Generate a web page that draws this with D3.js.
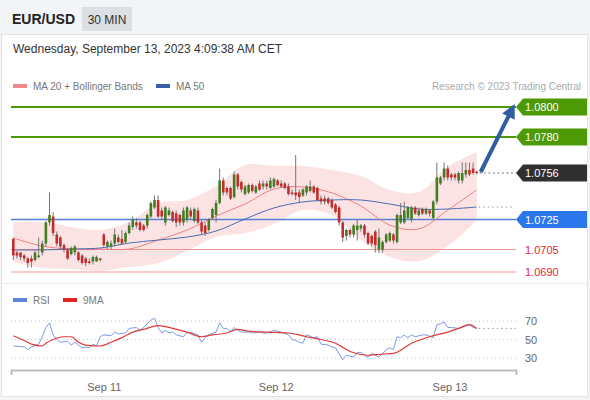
<!DOCTYPE html>
<html>
<head>
<meta charset="utf-8">
<script src="https://cdn.jsdelivr.net/npm/d3@7"></script>
<style>
  body { margin: 0; background: #f4f4f5; font-family: "Liberation Sans", Arial, sans-serif; }
</style>
</head>
<body>
<script>
// EUR/USD 30 min candles
var opens = [
  1.0712, 1.0703, 1.0703, 1.0701, 1.0699, 1.0699, 1.0698, 1.0700, 1.0703, 1.0709,
  1.0723, 1.0727, 1.0715, 1.0713, 1.0708, 1.0705, 1.0702, 1.0703, 1.0703, 1.0701,
  1.0699, 1.0697, 1.0697, 1.0697, 1.0699, 1.0715, 1.0707, 1.0707, 1.0709, 1.0713,
  1.0712, 1.0710, 1.0716, 1.0720, 1.0723, 1.0723, 1.0721, 1.0721, 1.0727, 1.0733,
  1.0738, 1.0731, 1.0723, 1.0728, 1.0730, 1.0729, 1.0728, 1.0723, 1.0725, 1.0731,
  1.0724, 1.0731, 1.0723, 1.0721, 1.0718, 1.0726, 1.0728, 1.0736, 1.0751, 1.0746,
  1.0746, 1.0740, 1.0755, 1.0750, 1.0742, 1.0743, 1.0748, 1.0743, 1.0749, 1.0747,
  1.0749, 1.0746, 1.0747, 1.0751, 1.0749, 1.0749, 1.0747, 1.0743, 1.0743, 1.0743,
  1.0741, 1.0743, 1.0744, 1.0747, 1.0746, 1.0739, 1.0739, 1.0739, 1.0738, 1.0735,
  1.0733, 1.0723, 1.0714, 1.0718, 1.0715, 1.0718, 1.0719, 1.0721, 1.0716, 1.0714,
  1.0717, 1.0705, 1.0705, 1.0710, 1.0711, 1.0715, 1.0710, 1.0723, 1.0723, 1.0726,
  1.0725, 1.0733, 1.0728, 1.0732, 1.0729, 1.0731, 1.0726, 1.0737, 1.0749, 1.0753,
  1.0759, 1.0755, 1.0755, 1.0751, 1.0751, 1.0755, 1.0758, 1.0759, 1.0757
];
var closes = [
  1.0701, 1.0701, 1.0700, 1.0699, 1.0696, 1.0697, 1.0703, 1.0701, 1.0709, 1.0723,
  1.0728, 1.0716, 1.0709, 1.0707, 1.0705, 1.0699, 1.0706, 1.0707, 1.0698, 1.0696,
  1.0696, 1.0696, 1.0700, 1.0700, 1.0698, 1.0708, 1.0710, 1.0709, 1.0715, 1.0710,
  1.0709, 1.0716, 1.0721, 1.0725, 1.0721, 1.0718, 1.0718, 1.0728, 1.0736, 1.0738,
  1.0727, 1.0727, 1.0733, 1.0731, 1.0724, 1.0723, 1.0723, 1.0731, 1.0733, 1.0727,
  1.0732, 1.0723, 1.0717, 1.0716, 1.0725, 1.0732, 1.0736, 1.0751, 1.0743, 1.0743,
  1.0739, 1.0755, 1.0747, 1.0745, 1.0747, 1.0748, 1.0744, 1.0747, 1.0745, 1.0749,
  1.0747, 1.0751, 1.0752, 1.0748, 1.0747, 1.0746, 1.0742, 1.0742, 1.0741, 1.0740,
  1.0745, 1.0747, 1.0747, 1.0743, 1.0738, 1.0737, 1.0737, 1.0736, 1.0733, 1.0730,
  1.0723, 1.0713, 1.0718, 1.0715, 1.0721, 1.0721, 1.0721, 1.0715, 1.0709, 1.0709,
  1.0708, 1.0713, 1.0710, 1.0715, 1.0716, 1.0711, 1.0728, 1.0728, 1.0731, 1.0733,
  1.0733, 1.0729, 1.0731, 1.0729, 1.0732, 1.0729, 1.0737, 1.0753, 1.0753, 1.0759,
  1.0753, 1.0753, 1.0753, 1.0756, 1.0756, 1.0758, 1.0755, 1.0756, 1.0756
];
var highs = [
  1.0713, 1.0704, 1.0703, 1.0702, 1.0700, 1.0701, 1.0704, 1.0713, 1.0711, 1.0724,
  1.0743, 1.0730, 1.0717, 1.0714, 1.0709, 1.0706, 1.0707, 1.0708, 1.0704, 1.0702,
  1.0700, 1.0699, 1.0701, 1.0701, 1.0699, 1.0716, 1.0711, 1.0711, 1.0719, 1.0715,
  1.0718, 1.0717, 1.0723, 1.0727, 1.0726, 1.0724, 1.0722, 1.0729, 1.0737, 1.0741,
  1.0741, 1.0733, 1.0734, 1.0733, 1.0731, 1.0731, 1.0729, 1.0733, 1.0734, 1.0733,
  1.0733, 1.0733, 1.0725, 1.0723, 1.0726, 1.0733, 1.0738, 1.0759, 1.0753, 1.0747,
  1.0747, 1.0757, 1.0756, 1.0751, 1.0748, 1.0749, 1.0749, 1.0748, 1.0751, 1.0751,
  1.0751, 1.0753, 1.0753, 1.0752, 1.0751, 1.0750, 1.0749, 1.0745, 1.0768, 1.0745,
  1.0746, 1.0748, 1.0751, 1.0748, 1.0747, 1.0741, 1.0741, 1.0740, 1.0739, 1.0736,
  1.0734, 1.0724, 1.0719, 1.0719, 1.0722, 1.0725, 1.0722, 1.0722, 1.0717, 1.0715,
  1.0718, 1.0719, 1.0711, 1.0716, 1.0717, 1.0716, 1.0729, 1.0736, 1.0737, 1.0734,
  1.0734, 1.0734, 1.0733, 1.0733, 1.0733, 1.0732, 1.0738, 1.0763, 1.0754, 1.0763,
  1.0761, 1.0756, 1.0756, 1.0757, 1.0763, 1.0763, 1.0763, 1.0763, 1.0757
];
var lows = [
  1.0698, 1.0699, 1.0698, 1.0697, 1.0693, 1.0693, 1.0697, 1.0699, 1.0701, 1.0707,
  1.0721, 1.0714, 1.0707, 1.0705, 1.0703, 1.0698, 1.0701, 1.0701, 1.0697, 1.0695,
  1.0694, 1.0695, 1.0695, 1.0697, 1.0697, 1.0707, 1.0705, 1.0705, 1.0707, 1.0709,
  1.0708, 1.0709, 1.0715, 1.0718, 1.0719, 1.0717, 1.0717, 1.0719, 1.0726, 1.0732,
  1.0726, 1.0725, 1.0721, 1.0727, 1.0723, 1.0720, 1.0721, 1.0721, 1.0723, 1.0725,
  1.0723, 1.0722, 1.0715, 1.0714, 1.0717, 1.0725, 1.0723, 1.0735, 1.0741, 1.0741,
  1.0738, 1.0739, 1.0745, 1.0743, 1.0741, 1.0742, 1.0743, 1.0742, 1.0744, 1.0745,
  1.0745, 1.0745, 1.0746, 1.0747, 1.0746, 1.0745, 1.0741, 1.0741, 1.0738, 1.0736,
  1.0740, 1.0741, 1.0743, 1.0742, 1.0737, 1.0735, 1.0735, 1.0735, 1.0732, 1.0729,
  1.0721, 1.0710, 1.0711, 1.0713, 1.0713, 1.0711, 1.0717, 1.0713, 1.0708, 1.0707,
  1.0703, 1.0703, 1.0703, 1.0709, 1.0710, 1.0709, 1.0709, 1.0722, 1.0722, 1.0725,
  1.0723, 1.0728, 1.0727, 1.0728, 1.0728, 1.0727, 1.0725, 1.0735, 1.0748, 1.0751,
  1.0751, 1.0751, 1.0751, 1.0749, 1.0749, 1.0753, 1.0754, 1.0755, 1.0755
];

// MA 20 + Bollinger Bands, MA 50 (read every 8 candles)
var bandIdx = [0, 8, 16, 24, 32, 40, 48, 56, 64, 72, 80, 88, 96, 104, 112, 120, 128];
var ma20 = [1.07127, 1.07073, 1.07053, 1.07053, 1.07053, 1.07113, 1.0718, 1.07273, 1.07353,
            1.07453, 1.07467, 1.07427, 1.0734, 1.07213, 1.07187, 1.07313, 1.07447];
var bandUpper = [1.07233, 1.07233, 1.072, 1.0718, 1.07233, 1.0736, 1.0738, 1.07473, 1.07613,
                 1.07607, 1.07607, 1.0758, 1.0754, 1.07447, 1.07433, 1.076, 1.077];
var bandLower = [1.06967, 1.06927, 1.0692, 1.06907, 1.06933, 1.0696, 1.0704, 1.07133, 1.0716,
                 1.0722, 1.07313, 1.0728, 1.07113, 1.07, 1.06973, 1.07073, 1.07247];
var ma50 = [1.07047, 1.07047, 1.07053, 1.0706, 1.07093, 1.07113, 1.07133, 1.07173, 1.07253,
            1.07327, 1.07367, 1.0738, 1.0738, 1.07353, 1.0732, 1.0732, 1.07333];

// RSI and its 9 period MA
var rsiIdx = [0, 3, 4, 5, 7, 8, 9, 10, 11, 12, 13, 15, 16, 17, 18, 19, 20, 21, 22, 23,
  24, 25, 27, 28, 29, 31, 32, 34, 35, 36, 38, 39, 40, 41, 42, 43, 44, 45, 47, 48,
  49, 51, 52, 53, 54, 56, 57, 58, 59, 60, 61, 62, 63, 65, 66, 68, 69, 70, 72, 74,
  76, 77, 78, 79, 80, 81, 83, 84, 85, 87, 88, 89, 91, 92, 94, 95, 96, 97, 98, 99,
  100, 101, 103, 104, 105, 106, 107, 108, 109, 110, 111, 113, 114, 116, 117, 118, 119, 120, 121, 123,
  124, 126, 127, 128];
var rsiVal = [43, 42, 39, 42, 45, 53, 63, 68, 55, 50, 47, 48, 44, 47, 44, 41, 42, 41, 45, 43,
  53, 55, 54, 58, 56, 57, 62, 63, 60, 63, 71, 73, 63, 57, 60, 57, 58, 55, 53, 57,
  58, 55, 47, 52, 55, 58, 68, 62, 62, 58, 63, 60, 58, 58, 57, 58, 57, 57, 60, 58,
  55, 50, 49, 47, 46, 55, 52, 53, 45, 44, 42, 41, 28, 33, 31, 36, 36, 33, 31, 35,
  33, 31, 39, 41, 39, 53, 52, 55, 52, 55, 53, 55, 55, 52, 66, 67, 69, 63, 63, 62,
  63, 66, 63, 62];
var rsiMaIdx = [0, 4, 5, 8, 9, 11, 14, 16, 18, 20, 24, 27, 30, 33, 36, 40, 44, 48, 52, 55,
  59, 62, 65, 70, 76, 79, 81, 85, 89, 93, 98, 101, 105, 110, 115, 120, 123, 126, 128];
var rsiMaVal = [54, 47, 45, 43, 46, 50, 53, 53, 47, 44, 43, 47, 52, 58, 61, 65, 62, 58, 53, 55,
  57, 61, 59, 58, 57, 55, 53, 50, 46, 37, 33, 34, 35, 46, 53, 58, 62, 66, 62];

// levels drawn on the right
var resistances = [1.0800, 1.0780];
var pivot = 1.0725;
var supports = [1.0705, 1.0690];
var lastPrice = 1.0756;
var rsiTicks = [70, 50, 30];
var dayTickIdx = [25, 72.5, 120.5];
var dayTickLabels = ["Sep 11", "Sep 12", "Sep 13"];

var width = 590, height = 400;
var left = 11, right = 516;

var svg = d3.select("body").append("svg")
    .attr("width", width)
    .attr("height", height)
    .style("display", "block");

//header and card
svg.append("rect").attr("width", width).attr("height", 34).attr("fill", "#f3f4f6");
svg.append("rect")
    .attr("x", 1.5).attr("y", 34.5).attr("width", 586).attr("height", 362)
    .attr("fill", "#fff").attr("stroke", "#e4e4e4");
svg.append("rect")
    .attr("x", 82).attr("y", 7).attr("width", 50).attr("height", 24)
    .attr("fill", "#dcdfe3");
svg.append("text").attr("x", 12).attr("y", 24)
    .attr("font-size", 14).attr("font-weight", "bold").attr("fill", "#222")
    .text("EUR/USD");
svg.append("text").attr("x", 107).attr("y", 23.5).attr("text-anchor", "middle")
    .attr("font-size", 12).attr("fill", "#333")
    .text("30 MIN");
svg.append("text").attr("x", 13).attr("y", 53)
    .attr("font-size", 12).attr("fill", "#333")
    .text("Wednesday, September 13, 2023 4:09:38 AM CET");

// separator between panels
svg.append("line").attr("x1", 2).attr("x2", 587).attr("y1", 283.5).attr("y2", 283.5)
    .attr("stroke", "#ececec");

//legend
var legend = [["MA 20 + Bollinger Bands", "#f08a8a", 13], ["MA 50", "#3a5ea8", 156]];
legend.forEach(function(l) {
  svg.append("rect").attr("x", l[2]).attr("y", 84).attr("width", 14).attr("height", 4).attr("fill", l[1]);
  svg.append("text").attr("x", l[2] + 20).attr("y", 90)
      .attr("font-size", 10).attr("fill", "#777").text(l[0]);
});
svg.append("text").attr("x", 581).attr("y", 90).attr("text-anchor", "end")
    .attr("font-size", 10).attr("fill", "#aaa").text("Research \u00a9 2023 Trading Central");

//scales
var x = d3.scaleLinear().domain([0, 128]).range([13.3, 476.7]);
var y = d3.scaleLinear().domain([1.0690, 1.0800]).range([272, 107]);
var yr = d3.scaleLinear().domain([30, 70]).range([358, 321]);

var candles = closes.map(function(c, i) {
  return { i: i, o: opens[i], h: highs[i], l: lows[i], c: c };
});
var bands = bandIdx.map(function(b, k) {
  return { i: b, ma20: ma20[k], up: bandUpper[k], lo: bandLower[k], ma50: ma50[k] };
});

//bollinger band area
svg.append("path")
    .datum(bands)
    .attr("fill", "#fcdede")
    .attr("opacity", 0.85)
    .attr("d", d3.area().curve(d3.curveCatmullRom)
        .x(function(d) { return x(d.i); })
        .y0(function(d) { return y(d.lo); })
        .y1(function(d) { return y(d.up); }));

//horizontal levels
resistances.forEach(function(p) {
  svg.append("line").attr("x1", left).attr("x2", right).attr("y1", y(p)).attr("y2", y(p))
      .attr("stroke", "#4e9a06").attr("stroke-width", 2);
});
svg.append("line").attr("x1", left).attr("x2", right).attr("y1", y(pivot)).attr("y2", y(pivot))
    .attr("stroke", "#5680d8").attr("stroke-width", 1.5);
supports.forEach(function(p) {
  svg.append("line").attr("x1", left).attr("x2", right).attr("y1", y(p)).attr("y2", y(p))
      .attr("stroke", "#f19595").attr("stroke-width", 1);
});

//moving averages
svg.append("path").datum(bands)
    .attr("fill", "none").attr("stroke", "#f08080").attr("stroke-width", 1)
    .attr("d", d3.line().curve(d3.curveCatmullRom)
        .x(function(d) { return x(d.i); }).y(function(d) { return y(d.ma20); }));
svg.append("path").datum(bands)
    .attr("fill", "none").attr("stroke", "#4a6db0").attr("stroke-width", 1)
    .attr("d", d3.line().curve(d3.curveCatmullRom)
        .x(function(d) { return x(d.i); }).y(function(d) { return y(d.ma50); }));

//candles
var cg = svg.append("g");
cg.selectAll(".wick").data(candles).enter().append("line")
    .attr("class", "wick")
    .attr("x1", function(d) { return x(d.i); }).attr("x2", function(d) { return x(d.i); })
    .attr("y1", function(d) { return y(d.h); }).attr("y2", function(d) { return y(d.l); })
    .attr("stroke", "#777").attr("stroke-width", 1);
cg.selectAll(".body").data(candles).enter().append("rect")
    .attr("class", "body")
    .attr("x", function(d) { return x(d.i) - 1.3; })
    .attr("width", 2.6)
    .attr("y", function(d) { return y(Math.max(d.o, d.c)); })
    .attr("height", function(d) { return Math.max(1, Math.abs(y(d.o) - y(d.c))); })
    .attr("fill", function(d) { return d.c >= d.o ? "#3f7d20" : "#c42b2b"; });

//dotted extensions
var lastX = x(candles.length - 1);
svg.append("line").attr("x1", lastX + 3).attr("x2", right).attr("y1", y(lastPrice)).attr("y2", y(lastPrice))
    .attr("stroke", "#555").attr("stroke-dasharray", "1.5,3");
svg.append("line").attr("x1", lastX + 2).attr("x2", right - 3)
    .attr("y1", y(ma50[ma50.length - 1])).attr("y2", y(ma50[ma50.length - 1]))
    .attr("stroke", "#999").attr("stroke-dasharray", "1.5,3");

//arrow to target
var ax0 = lastX + 4, ay0 = y(lastPrice) - 1;
var ax1 = lastX + 38, ay1 = y(resistances[0]) - 3;
var ang = Math.atan2(ay1 - ay0, ax1 - ax0);
var ux = Math.cos(ang), uy = Math.sin(ang);
var hl = 14, hw = 7;
svg.append("line")
    .attr("x1", ax0).attr("y1", ay0)
    .attr("x2", ax1 - ux * (hl - 2)).attr("y2", ay1 - uy * (hl - 2))
    .attr("stroke", "#2f5d9e").attr("stroke-width", 4);
svg.append("path")
    .attr("fill", "#2f5d9e")
    .attr("d", "M" + ax1 + "," + ay1 +
        "L" + (ax1 - ux * hl - uy * hw) + "," + (ay1 - uy * hl + ux * hw) +
        "L" + (ax1 - ux * hl + uy * hw) + "," + (ay1 - uy * hl - ux * hw) + "Z");

//right tags
function tag(p, fill) {
  var yy = y(p);
  svg.append("path")
      .attr("d", "M" + right + "," + yy + "L" + (right + 7) + "," + (yy - 8.5) + "L587," + (yy - 8.5) +
          "L587," + (yy + 8.5) + "L" + (right + 7) + "," + (yy + 8.5) + "Z")
      .attr("fill", fill);
  svg.append("text").attr("x", right + 9).attr("y", yy + 4)
      .attr("font-size", 11).attr("fill", "#fff").text(p.toFixed(4));
}
resistances.forEach(function(p) { tag(p, "#4e9a06"); });
tag(lastPrice, "#303030");
tag(pivot, "#2b76ea");
supports.forEach(function(p) {
  svg.append("text").attr("x", right + 9).attr("y", y(p) + 4)
      .attr("font-size", 11).attr("fill", "#e0282f").text(p.toFixed(4));
});

//RSI panel
var rl = [["RSI", "#5f86dc", 13], ["9MA", "#e02424", 63]];
rl.forEach(function(l) {
  svg.append("rect").attr("x", l[2]).attr("y", 298).attr("width", 14).attr("height", 4).attr("fill", l[1]);
  svg.append("text").attr("x", l[2] + 20).attr("y", 304)
      .attr("font-size", 10).attr("fill", "#777").text(l[0]);
});
rsiTicks.forEach(function(t) {
  svg.append("line").attr("x1", left).attr("x2", right).attr("y1", yr(t)).attr("y2", yr(t))
      .attr("stroke", "#c8c8c8").attr("stroke-dasharray", "1,3");
  svg.append("text").attr("x", right + 9).attr("y", yr(t) + 4)
      .attr("font-size", 11).attr("fill", "#666").text(t);
});
var rsiPts = rsiIdx.map(function(r, k) { return { i: r, v: rsiVal[k] }; });
var rsiMaPts = rsiMaIdx.map(function(r, k) { return { i: r, v: rsiMaVal[k] }; });
svg.append("line").attr("x1", lastX + 2).attr("x2", right)
    .attr("y1", yr(rsiVal[rsiVal.length - 1])).attr("y2", yr(rsiVal[rsiVal.length - 1]))
    .attr("stroke", "#999").attr("stroke-dasharray", "1.5,3");
svg.append("path").datum(rsiPts)
    .attr("fill", "none").attr("stroke", "#7b9be2").attr("stroke-width", 1)
    .attr("d", d3.line().x(function(d) { return x(d.i); }).y(function(d) { return yr(d.v); }));
svg.append("path").datum(rsiMaPts)
    .attr("fill", "none").attr("stroke", "#e03a3a").attr("stroke-width", 1.2)
    .attr("d", d3.line().curve(d3.curveMonotoneX)
        .x(function(d) { return x(d.i); }).y(function(d) { return yr(d.v); }));

//x axis
var xa = d3.scaleLinear().domain([x.invert(left), x.invert(right)]).range([left, right]);
var axis = svg.append("g")
    .attr("transform", "translate(0,370)")
    .call(d3.axisBottom(xa)
        .tickValues(dayTickIdx)
        .tickFormat(function(d, k) { return dayTickLabels[k]; })
        .tickSizeInner(0)
        .tickSizeOuter(5)
        .tickPadding(13));
axis.select(".domain").attr("stroke", "#bdbdbd").attr("stroke-width", 2);
axis.selectAll("text").attr("font-size", 11).attr("fill", "#666")
    .attr("font-family", "Liberation Sans, Arial, sans-serif");
</script>
</body>
</html>
